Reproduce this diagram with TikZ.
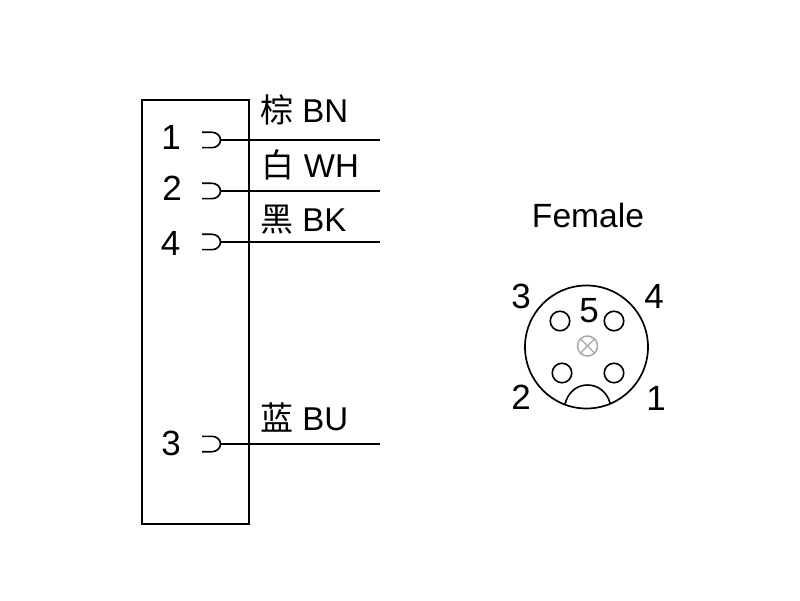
\documentclass[tikz,border=0pt]{standalone}
\usepackage{fontspec}
\setmainfont{Liberation Sans}
\newfontfamily\cjk{Noto Sans CJK SC}
\usetikzlibrary{calc}
\tikzstyle{pin_label}=[inner sep=0pt,font=\fontsize{35}{35}\selectfont]
\tikzstyle{title_label}=[inner sep=0pt,font=\fontsize{33.6}{33.6}\selectfont]
\tikzstyle{wire_label}=[inner sep=0pt,anchor=west,font=\fontsize{33}{33}\selectfont]
\tikzstyle{contact}=[circle,draw,line width=1.6pt,minimum size=19.5pt,inner sep=0pt]
\definecolor{markgray}{HTML}{A8A8A8}
\newcommand{\socket}[2]{
    \coordinate (#1_in) at (220,#2);
    \coordinate (#1_out) at (380,#2);
    \draw[line width=1.6pt] (202,#2+7.7) -- (212,#2+7.7) arc (90:-90:8.5 and 7.7) -- (202,#2-7.7);
    \draw[line width=1.7pt] (#1_in) -- (#1_out);
}

\begin{document}
\begin{tikzpicture}[x=1pt,y=1pt]

    \useasboundingbox (0,0) rectangle (800,600);

    % Housing
    \node[rectangle,draw,line width=1.8pt,minimum width=107pt,minimum height=424pt,inner sep=0pt,anchor=north west] (housing) at (141,501) {};

    % Wires
    \socket{one}{460}
    \socket{two}{409}
    \socket{four}{358}
    \socket{three}{156}

    \node[pin_label] (pin1) at (171,463) {1};
    \node[pin_label] (pin2) at (172,412) {2};
    \node[pin_label] (pin4) at (170.5,357) {4};
    \node[pin_label] (pin3) at (171,157) {3};

    \node[wire_label] (bn) at (260,490) {{\cjk 棕} BN};
    \node[wire_label] (wh) at (261.5,435) {{\cjk 白} WH};
    \node[wire_label] (bk) at (260,380) {{\cjk 黑} BK};
    \node[wire_label] (bu) at (260,182) {{\cjk 蓝} BU};

    % Connector face
    \node[title_label] (female) at (588,385) {Female};
    \node[circle,draw,line width=1.7pt,minimum size=123pt,inner sep=0pt] (face) at (586.5,253) {};

    \node[contact] (c3) at (560,279) {};
    \node[contact] (c4) at (614,279) {};
    \node[contact] (c2) at (562,227) {};
    \node[contact] (c1) at (614,227) {};

    \node[circle,draw=markgray,line width=1.5pt,minimum size=20pt,inner sep=0pt] (mark) at (587.5,254) {};
    \draw[markgray,line width=1.2pt] (mark.45) -- (mark.225);
    \draw[markgray,line width=1.2pt] (mark.135) -- (mark.315);

    % Key
    \coordinate (key_left) at (565,196);
    \coordinate (key_right) at (610,197);
    \draw[line width=1.6pt] (key_left) .. controls (568,208) and (577,215) .. (587.5,215) .. controls (598,215) and (607,208) .. (key_right);

    \node[pin_label] (n3) at (521,304) {3};
    \node[pin_label] (n4) at (654,304) {4};
    \node[pin_label] (n5) at (589,289) {5};
    \node[pin_label] (n2) at (521,203) {2};
    \node[pin_label] (n1) at (656,202) {1};

\end{tikzpicture}
\end{document}
